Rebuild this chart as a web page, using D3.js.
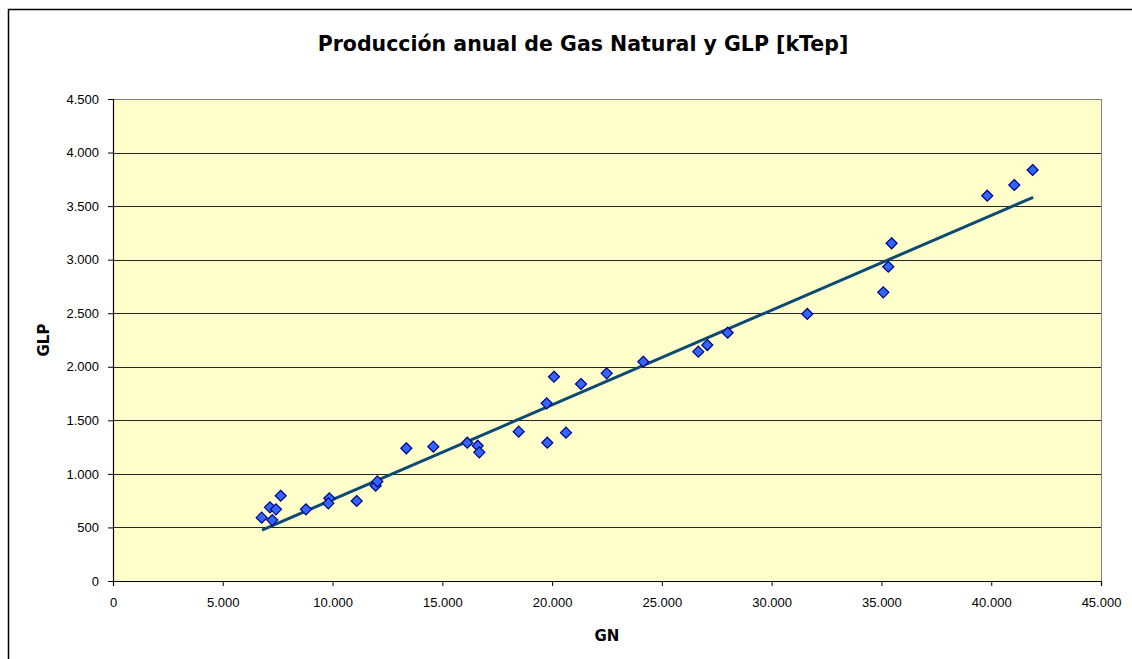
<!DOCTYPE html>
<html>
<head>
<meta charset="utf-8">
<script src="https://cdn.jsdelivr.net/npm/d3@7"></script>
<style>
  html, body { margin: 0; padding: 0; background: #ffffff; }
  svg { display: block; }
</style>
</head>
<body>
<svg id="chart" width="1132" height="659"></svg>
<script>
// ---- data ----
const gnValues = [6772, 7151, 7256, 7424, 7638, 8790, 9853, 9808, 11099, 11964, 12040,
  13360, 14590, 16137, 16610, 16684, 18477, 19781, 20632, 19753,
  20086, 21316, 22486, 24153, 26658, 27068, 27997, 31623,
  35084, 35312, 35464, 39820, 41050, 41886];
const glpValues = [591, 688, 569, 669, 796, 669, 772, 725, 747, 890, 930,
  1239, 1254, 1291, 1263, 1201, 1394, 1291, 1385, 1659,
  1907, 1839, 1939, 2047, 2141, 2203, 2318, 2493,
  2695, 2934, 3153, 3597, 3697, 3837];
const trendGN = [6786, 41908];
const trendGLP = [476, 3582];
const xTicks = [0, 5000, 10000, 15000, 20000, 25000, 30000, 35000, 40000, 45000];
const xTickLabels = ["0", "5.000", "10.000", "15.000", "20.000", "25.000", "30.000", "35.000", "40.000", "45.000"];
const yTicks = [0, 500, 1000, 1500, 2000, 2500, 3000, 3500, 4000, 4500];
const yTickLabels = ["0", "500", "1.000", "1.500", "2.000", "2.500", "3.000", "3.500", "4.000", "4.500"];
const titleText = "Producción anual de Gas Natural y GLP [kTep]";
const xTitle = "GN";
const yTitle = "GLP";

// ---- layout ----
const svg = d3.select("#chart");
const plot = { left: 113, right: 1101, top: 99, bottom: 581 };

const x = d3.scaleLinear().domain([0, 45000]).range([plot.left, plot.right]);
const y = d3.scaleLinear().domain([0, 4500]).range([plot.bottom, plot.top]);

// outer frame
svg.append("rect")
  .attr("x", 8.5).attr("y", 9.5)
  .attr("width", 1200).attr("height", 700)
  .attr("fill", "#ffffff").attr("stroke", "#000000").attr("stroke-width", 1.5);

// plot background
svg.append("rect")
  .attr("x", plot.left).attr("y", plot.top)
  .attr("width", plot.right - plot.left).attr("height", plot.bottom - plot.top)
  .attr("fill", "#FFFFCC");

// gridlines
svg.append("g").selectAll("line")
  .data(yTicks.filter(d => d > 0))
  .join("line")
  .attr("x1", plot.left).attr("x2", plot.right)
  .attr("y1", d => Math.round(y(d)) + 0.5).attr("y2", d => Math.round(y(d)) + 0.5)
  .attr("stroke", d => d === 4500 ? "#808080" : "#262626").attr("stroke-width", 1);

// right border of plot
svg.append("line")
  .attr("x1", plot.right + 0.5).attr("x2", plot.right + 0.5)
  .attr("y1", plot.top).attr("y2", plot.bottom)
  .attr("stroke", "#808080").attr("stroke-width", 1);

// axes
const fmtX = d => xTickLabels[xTicks.indexOf(d)];
const fmtY = d => yTickLabels[yTicks.indexOf(d)];

const xAxis = svg.append("g")
  .attr("transform", `translate(0,${plot.bottom})`)
  .call(d3.axisBottom(x).tickValues(xTicks).tickFormat(fmtX).tickSizeOuter(0).tickSize(5).tickPadding(12));
const yAxis = svg.append("g")
  .attr("transform", `translate(${plot.left},0)`)
  .call(d3.axisLeft(y).tickValues(yTicks).tickFormat(fmtY).tickSizeOuter(0).tickSize(5).tickPadding(9));

[xAxis, yAxis].forEach(g => {
  g.select(".domain").attr("stroke", "#000000").attr("stroke-width", 1.2);
  g.selectAll(".tick line").attr("stroke", "#000000");
  g.selectAll(".tick text")
    .attr("font-family", "Liberation Sans, Arial, sans-serif")
    .attr("font-size", 13)
    .attr("fill", "#000000");
});

// trendline
svg.append("line")
  .attr("x1", x(trendGN[0])).attr("y1", y(trendGLP[0]))
  .attr("x2", x(trendGN[1])).attr("y2", y(trendGLP[1]))
  .attr("stroke", "#0C4A74").attr("stroke-width", 3)
  .attr("stroke-linecap", "butt");

// points (diamonds)
const points = gnValues.map((g, i) => ({ gn: g, glp: glpValues[i] }));
const r = 5.5;
svg.append("g").selectAll("path")
  .data(points)
  .join("path")
  .attr("d", d => {
    const cx = x(d.gn), cy = y(d.glp);
    return `M${cx},${cy - r}L${cx + r},${cy}L${cx},${cy + r}L${cx - r},${cy}Z`;
  })
  .attr("fill", "#3366FF")
  .attr("stroke", "#000080")
  .attr("stroke-width", 1.2);

// title
const title = svg.append("text")
  .attr("x", 583).attr("y", 51)
  .attr("text-anchor", "middle")
  .attr("font-family", "DejaVu Sans, Verdana, sans-serif")
  .attr("font-weight", "bold")
  .attr("font-size", 16)
  .attr("fill", "#000000")
  .text(titleText);
const tw = title.node().getComputedTextLength();
title.attr("font-size", 16 * 531 / tw);

// axis titles
svg.append("text")
  .attr("x", (plot.left + plot.right) / 2).attr("y", 641)
  .attr("text-anchor", "middle")
  .attr("font-family", "DejaVu Sans, Verdana, sans-serif")
  .attr("font-weight", "bold")
  .attr("font-size", 15)
  .text(xTitle);

svg.append("text")
  .attr("transform", `translate(49,${(plot.top + plot.bottom) / 2}) rotate(-90)`)
  .attr("text-anchor", "middle")
  .attr("font-family", "DejaVu Sans, Verdana, sans-serif")
  .attr("font-weight", "bold")
  .attr("font-size", 15)
  .text(yTitle);
</script>
</body>
</html>
